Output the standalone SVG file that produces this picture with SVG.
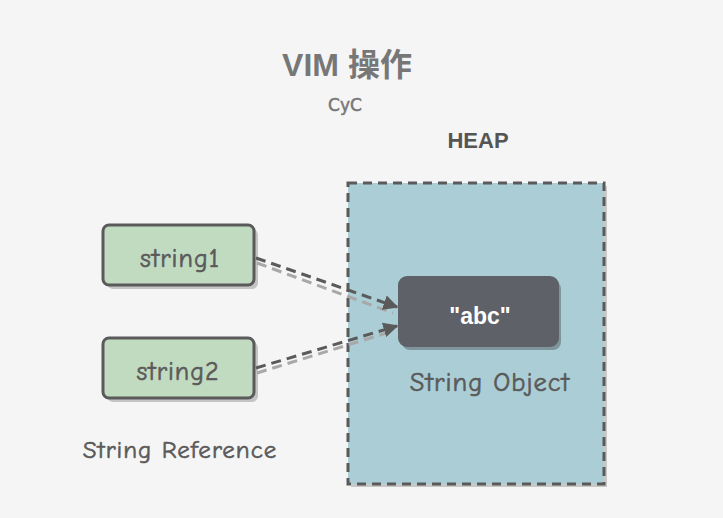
<svg xmlns="http://www.w3.org/2000/svg" width="723" height="518" viewBox="0 0 723 518">
<defs>
<style>
.t{font-family:"Comic Neue","Liberation Sans","DejaVu Sans",sans-serif;fill:#5a5a5a;stroke:#5a5a5a;stroke-width:0.6;letter-spacing:1px}
.ref{fill:#c1dbc1;stroke:#5a5a5a;stroke-width:3}
.sh{fill:#c4c4c4}
.conn{fill:none;stroke:#5a5a5a;stroke-width:3;stroke-dasharray:10 6}
.connsh{fill:none;stroke:#a8a8a8;stroke-width:3;stroke-dasharray:10 6}
</style>
<marker id="ah" viewBox="0 0 10 10" refX="9" refY="5" markerWidth="5" markerHeight="5" orient="auto" markerUnits="strokeWidth">
<path d="M0,0 L10,5 L0,10 Z" fill="#5a5a5a"/>
</marker>
</defs>
<rect width="723" height="518" fill="#f5f5f5"/>
<text x="347" y="76" text-anchor="middle" font-size="32" font-weight="bold" font-family="'Liberation Sans','Noto Sans CJK SC',sans-serif" fill="#777">VIM 操作</text>
<text x="345" y="111" text-anchor="middle" font-size="17" font-family="'DejaVu Sans',sans-serif" fill="#777" stroke="#777" stroke-width="0.5">CyC</text>
<g id="heap">
<rect x="351" y="186" width="256" height="301" fill="#c8c8c8"/>
<rect x="348" y="183" width="256" height="301" fill="#abcdd5" stroke="#5a5a5a" stroke-width="3" stroke-dasharray="9 6"/>
<text x="478" y="148" text-anchor="middle" font-size="22" font-weight="bold" font-family="'Liberation Sans',sans-serif" fill="#555">HEAP</text>
</g>
<g id="string1">
<rect class="sh" x="107" y="229" width="151" height="60" rx="6"/>
<rect class="ref" x="103" y="225" width="151" height="60" rx="6"/>
<text class="t" x="180" y="267" text-anchor="middle" font-size="26">string1</text>
</g>
<g id="string2">
<rect class="sh" x="107" y="342" width="151" height="60" rx="6"/>
<rect class="ref" x="103" y="338" width="151" height="60" rx="6"/>
<text class="t" x="178" y="380" text-anchor="middle" font-size="26">string2</text>
</g>
<g id="abc">
<rect x="402" y="281" width="159" height="69" rx="8" fill="#7d959b"/>
<rect x="399" y="277" width="159" height="69" rx="8" fill="#5f6168" stroke="#5f6168" stroke-width="2"/>
<text x="480" y="324" text-anchor="middle" font-size="23" font-weight="bold" font-family="'Liberation Sans',sans-serif" fill="#ffffff">"abc"</text>
<text class="t" x="490" y="391" text-anchor="middle" font-size="26.5">String Object</text>
</g>
<g id="labels">
<text class="t" x="180" y="458" text-anchor="middle" font-size="25">String Reference</text>
</g>
<g id="connectors">
<path class="connsh" d="M257,263 L393,313"/>
<path class="connsh" d="M257,373 L393,331"/>
<path class="conn" d="M256,258 L397,307" marker-end="url(#ah)"/>
<path class="conn" d="M256,368 L397,326" marker-end="url(#ah)"/>
</g>
</svg>
